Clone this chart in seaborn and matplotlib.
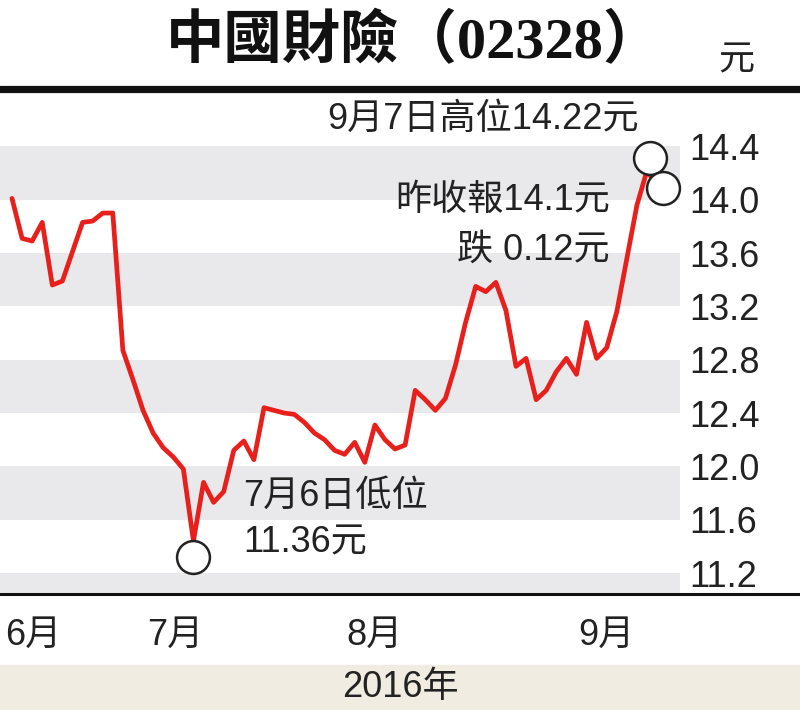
import matplotlib
matplotlib.use("Agg")
import matplotlib.pyplot as plt
import matplotlib.transforms as mtransforms
import numpy as np
import pandas as pd
import seaborn as sns

# ---------------- data ----------------
title = "中國財險（02328）"
unit_label = "元"
year_label = "2016年"
month_labels = ["6月", "7月", "8月", "9月"]
month_pos = [2.1, 16.2, 36.0, 59.0]          # in trading-day index units

prices = [
    14.01, 13.71, 13.69, 13.83, 13.36, 13.39, 13.61, 13.83, 13.84, 13.90,
    13.90, 12.87, 12.65, 12.42, 12.25, 12.14, 12.07, 11.98, 11.44, 11.88,
    11.73, 11.81, 12.12, 12.19, 12.05, 12.44, 12.42, 12.40, 12.39, 12.33,
    12.25, 12.20, 12.12, 12.09, 12.18, 12.03, 12.31, 12.20, 12.13, 12.16,
    12.57, 12.50, 12.42, 12.51, 12.76, 13.08, 13.35, 13.31, 13.38, 13.17,
    12.75, 12.81, 12.50, 12.57, 12.71, 12.81, 12.69, 13.08, 12.81, 12.89,
    13.16, 13.56, 13.96, 14.22, 14.10,
]
day = list(range(len(prices)))

y_ticks = [11.2, 11.6, 12.0, 12.4, 12.8, 13.2, 13.6, 14.0, 14.4]

low_idx, high_idx, last_idx = 18, 63, 64
note_high = "9月7日高位14.22元"
note_last = ["昨收報14.1元", "跌 0.12元"]
note_low = ["7月6日低位", "11.36元"]

df = pd.DataFrame({"day": day, "price": prices})

# ---------------- style ----------------
sns.set_theme(style="white")
FAM = ["Liberation Sans", "Noto Sans CJK TC", "DejaVu Sans"]
plt.rcParams["font.family"] = FAM

W, H = 800, 710
fig = plt.figure(figsize=(W / 100, H / 100), dpi=100)
fig.patch.set_facecolor("white")

def fx(px):
    return px / W

def fy(py):
    return 1 - py / H

ax = fig.add_axes([0, fy(593), fx(680), fy(92) - fy(593)])
ax.set_facecolor("white")

ax.set_xlim(-12 / 10.08, (680 - 12) / 10.08)
ax.set_ylim(11.05, 14.808)

# alternating bands
band_col = "#e9e9eb"
ax.axhspan(11.0, y_ticks[0], color=band_col, lw=0, zorder=0)
for i in range(1, len(y_ticks) - 1, 2):
    ax.axhspan(y_ticks[i], y_ticks[i + 1], color=band_col, lw=0, zorder=0)

sns.lineplot(data=df, x="day", y="price", ax=ax, color="#e8201c",
             linewidth=3.4, zorder=3, legend=False)

# circles (offset slightly from the marked points)
def circle(ix, dx, dy):
    tr = mtransforms.offset_copy(ax.transData, fig=fig, x=dx, y=dy, units="dots")
    ax.scatter([day[ix]], [prices[ix]], s=560, facecolor="white",
               edgecolor="#222222", linewidth=1.8, transform=tr, zorder=5,
               clip_on=False)

circle(low_idx, 0, -16)
circle(high_idx, 3, 12)
circle(last_idx, 6, -2)

# axes cosmetics
for s in ax.spines.values():
    s.set_visible(False)
ax.grid(False)
ax.yaxis.tick_right()
ax.set_yticks(y_ticks)
ax.set_yticklabels([f"{v:.1f}" for v in y_ticks])
ax.tick_params(axis="y", length=0, pad=7, labelsize=26, labelcolor="#222222")
ax.set_xticks(month_pos)
ax.set_xticklabels(month_labels)
ax.tick_params(axis="x", length=0, pad=18, labelsize=26, labelcolor="#222222")
ax.set_xlabel("")
ax.set_ylabel("")

# header
fig.text(fx(414), fy(42), title, ha="center", va="center", fontsize=42,
         fontweight="bold", color="#111111",
         family=["Liberation Serif", "Noto Sans CJK TC"])
fig.text(fx(736), fy(61), unit_label, ha="center", va="center",
         fontsize=26, color="#222222")

# rules
fig.add_artist(plt.Line2D([0, 1], [fy(88.5), fy(88.5)], color="#111111",
                          lw=5.2, transform=fig.transFigure))
fig.add_artist(plt.Line2D([0, 1], [fy(593.5), fy(593.5)], color="#111111",
                          lw=2.2, transform=fig.transFigure, zorder=10))

# bottom band
fig.add_artist(plt.Rectangle((0, 0), 1, fy(665), color="#f0ece2",
                             transform=fig.transFigure, zorder=0))
fig.text(fx(400), fy(688), year_label, ha="center", va="center",
         fontsize=26, color="#222222")

# annotations
txt_kw = dict(fontsize=26, color="#222222")
fig.text(fx(639), fy(119), note_high, ha="right", va="center", **txt_kw)
fig.text(fx(610), fy(200), note_last[0], ha="right", va="center", **txt_kw)
fig.text(fx(610), fy(250), note_last[1], ha="right", va="center", **txt_kw)
fig.text(fx(243), fy(496), note_low[0], ha="left", va="center", **txt_kw)
fig.text(fx(243), fy(543), note_low[1], ha="left", va="center", **txt_kw)

fig.savefig("out.png", dpi=100, facecolor="white")
